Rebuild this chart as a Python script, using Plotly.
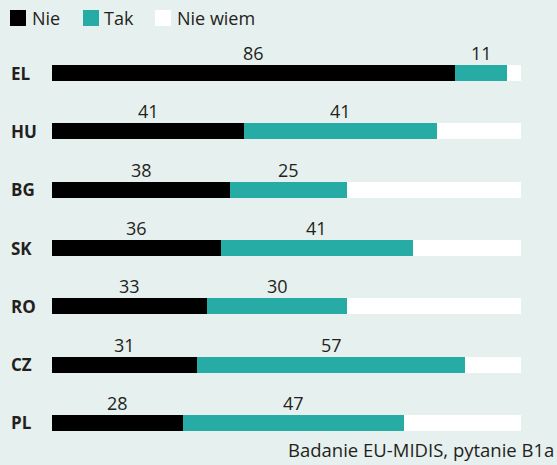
import plotly.graph_objects as go

countries = ["EL", "HU", "BG", "SK", "RO", "CZ", "PL"]
nie = [86, 41, 38, 36, 33, 31, 28]
tak = [11, 41, 25, 41, 30, 57, 47]
nie_wiem = [3, 18, 37, 23, 37, 12, 25]
series_names = ["Nie", "Tak", "Nie wiem"]
source_text = "Badanie EU-MIDIS, pytanie B1a"

BG = "#e6f0ee"
TEAL = "#26aba5"
TXT = "#231f20"
colors = ["#000000", TEAL, "#ffffff"]

W, H = 557, 465
L, R, T, B = 52, 36, 44, 13
pw, ph = W - L - R, H - T - B

def px_x(p):
    return (p - L) / pw

def px_y(p):
    return (H - B - p) / ph

fig = go.Figure()
for name, vals, col in zip(series_names, [nie, tak, nie_wiem], colors):
    fig.add_trace(go.Bar(
        y=countries, x=vals, name=name, orientation="h",
        marker=dict(color=col, line=dict(width=0)),
        width=0.275, showlegend=False, hoverinfo="skip",
    ))

annotations = []
for c, a, b in zip(countries, nie, tak):
    annotations.append(dict(x=a / 2, y=c, xref="x", yref="y", text=str(a),
                            showarrow=False, yshift=20,
                            font=dict(family="Open Sans", size=18, color=TXT)))
    annotations.append(dict(x=a + b / 2, y=c, xref="x", yref="y", text=str(b),
                            showarrow=False, yshift=20,
                            font=dict(family="Open Sans", size=18, color=TXT)))
    annotations.append(dict(x=px_x(9), y=c, xref="paper", yref="y", text="<b>%s</b>" % c,
                            showarrow=False, xanchor="left",
                            font=dict(family="Open Sans", size=17, color=TXT)))

# legend (custom)
shapes = []
leg_pos = [(10, 30), (83, 102), (155, 175)]
for (sx, tx), name, col in zip(leg_pos, series_names, colors):
    shapes.append(dict(type="rect", xref="paper", yref="paper",
                       x0=px_x(sx), x1=px_x(sx + 16), y0=px_y(26), y1=px_y(10),
                       fillcolor=col, line=dict(width=0)))
    annotations.append(dict(x=px_x(tx), y=px_y(18), xref="paper", yref="paper",
                            text=name, showarrow=False, xanchor="left", yanchor="middle",
                            font=dict(family="Open Sans", size=18, color=TXT)))

annotations.append(dict(x=px_x(556), y=px_y(464), xref="paper", yref="paper",
                        text=source_text, showarrow=False, xanchor="right", yanchor="bottom",
                        font=dict(family="Open Sans", size=18.5, color=TXT)))

fig.update_layout(
    width=W, height=H, barmode="stack",
    margin=dict(l=L, r=R, t=T, b=B),
    paper_bgcolor=BG, plot_bgcolor=BG,
    xaxis=dict(range=[0, 100], visible=False, fixedrange=True),
    yaxis=dict(categoryorder="array", categoryarray=countries[::-1],
               range=[-0.5, 6.5], visible=False, fixedrange=True),
    annotations=annotations, shapes=shapes,
    bargap=0,
)
fig.write_html(
    "out.html",
    config={"displayModeBar": False},
    post_script="document.body.style.margin='0';document.body.style.background='%s';" % BG,
)
